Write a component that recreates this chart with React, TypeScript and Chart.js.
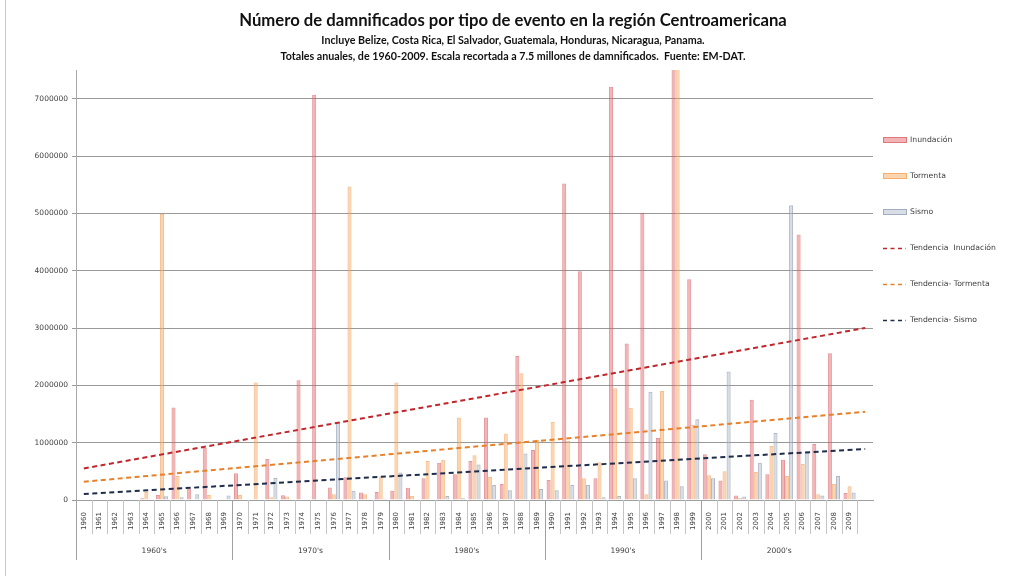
import { useEffect, useRef } from "react";
import { Chart, registerables } from "chart.js";

Chart.register(...registerables);

// Years on the category axis (the last, unlabeled slot is where the trend lines end)
const years = [
  "1960", "1961", "1962", "1963", "1964", "1965", "1966", "1967", "1968", "1969",
  "1970", "1971", "1972", "1973", "1974", "1975", "1976", "1977", "1978", "1979",
  "1980", "1981", "1982", "1983", "1984", "1985", "1986", "1987", "1988", "1989",
  "1990", "1991", "1992", "1993", "1994", "1995", "1996", "1997", "1998", "1999",
  "2000", "2001", "2002", "2003", "2004", "2005", "2006", "2007", "2008", "2009",
  "",
];

const decades = ["1960's", "1970's", "1980's", "1990's", "2000's"];

// Damnificados per year and event type
const inundacion = [
  0, 0, 0, 0, 30000, 87000, 1615000, 200000, 910000, 10000,
  465000, 0, 714000, 85000, 2090000, 7070000, 220000, 395000, 130000, 140000,
  160000, 215000, 380000, 650000, 450000, 680000, 1440000, 280000, 2510000, 870000,
  350000, 5520000, 3990000, 380000, 7210000, 2730000, 5010000, 1080000, 8000000, 3850000,
  800000, 340000, 80000, 1750000, 450000, 700000, 4630000, 975000, 2560000, 120000,
  null,
];

const tormenta = [
  0, 0, 0, 0, 140000, 4990000, 420000, 10000, 87000, 0,
  87000, 2050000, 50000, 60000, 0, 0, 100000, 5470000, 100000, 410000,
  2050000, 70000, 680000, 700000, 1440000, 780000, 400000, 1160000, 2210000, 1050000,
  1360000, 1030000, 380000, 660000, 1950000, 1610000, 100000, 1900000, 8000000, 1310000,
  430000, 500000, 40000, 490000, 940000, 420000, 630000, 100000, 280000, 240000,
  null,
];

const sismo = [
  0, 0, 0, 0, 10000, 64000, 50000, 100000, 0, 80000,
  0, 10000, 383000, 0, 0, 0, 1360000, 160000, 0, 20000,
  480000, 0, 0, 70000, 30000, 620000, 260000, 170000, 810000, 190000,
  170000, 260000, 260000, 50000, 70000, 380000, 1890000, 340000, 240000, 1410000,
  380000, 2240000, 60000, 650000, 1170000, 5140000, 840000, 80000, 420000, 130000,
  null,
];

// Linear trend lines: value at the first and at the last category slot
const tendenciaInundacion = [550000, 3000000];
const tendenciaTormenta = [320000, 1540000];
const tendenciaSismo = [105000, 890000];

const yTicks = [0, 1000000, 2000000, 3000000, 4000000, 5000000, 6000000, 7000000];
const yMax = 7500000;

const titleText = "Número de damnificados por tipo de evento en la región Centroamericana";
const subtitleLines = [
  "Incluye Belize, Costa Rica, El Salvador, Guatemala, Honduras, Nicaragua, Panama.",
  "Totales anuales, de 1960-2009. Escala recortada a 7.5 millones de damnificados.  Fuente: EM-DAT.",
];

const trendSeries = (ends: number[]) =>
  years.map((_, i) => (i === 0 ? ends[0] : i === years.length - 1 ? ends[1] : null));

const SMALL_FONT = "'DejaVu Sans', Verdana, sans-serif";
const TITLE_FONT = "Lato, 'Open Sans', sans-serif";

const overlayPlugin = {
  id: "overlay",
  afterDraw(chart: any) {
    const ctx: CanvasRenderingContext2D = chart.ctx;
    const xs = chart.scales.x;
    const area = chart.chartArea;
    const cx = chart.width / 2;
    ctx.save();

    // outer frame line on the left
    ctx.strokeStyle = "#c8c8c8";
    ctx.lineWidth = 1;
    ctx.beginPath();
    ctx.moveTo(5.5, 0);
    ctx.lineTo(5.5, chart.height);
    ctx.stroke();

    // title block
    ctx.fillStyle = "#111";
    ctx.textAlign = "center";
    ctx.textBaseline = "middle";
    ctx.font = `bold 16.7px ${TITLE_FONT}`;
    ctx.fillText(titleText, cx, 21);
    ctx.font = `bold 10.7px ${TITLE_FONT}`;
    ctx.fillText(subtitleLines[0], cx, 41);
    ctx.fillText(subtitleLines[1], cx, 57);

    // year cells and decade groups under the axis
    const half = (xs.getPixelForValue(1) - xs.getPixelForValue(0)) / 2;
    const base = area.bottom;
    const labeled = years.filter((y) => y !== "").length;
    ctx.lineWidth = 1;
    for (let i = 0; i <= labeled; i++) {
      const bx = Math.round(xs.getPixelForValue(i) - half) + 0.5;
      const isDecade = i % 10 === 0 && i < labeled;
      ctx.strokeStyle = isDecade ? "#a0a0a0" : "#c4c4c4";
      ctx.beginPath();
      ctx.moveTo(bx, base);
      ctx.lineTo(bx, isDecade ? base + 60 : base + 34);
      ctx.stroke();
    }
    ctx.fillStyle = "#404040";
    ctx.font = `7px ${SMALL_FONT}`;
    for (let i = 0; i < labeled; i++) {
      const px = xs.getPixelForValue(i);
      ctx.save();
      ctx.translate(px, base + 21);
      ctx.rotate(-Math.PI / 2);
      ctx.textAlign = "center";
      ctx.textBaseline = "middle";
      ctx.fillText(years[i], 0, 0);
      ctx.restore();
    }
    ctx.font = `7.5px ${SMALL_FONT}`;
    ctx.textAlign = "center";
    ctx.textBaseline = "middle";
    decades.forEach((d, k) => {
      const a = xs.getPixelForValue(k * 10) - half;
      const b = xs.getPixelForValue(k * 10 + 9) + half;
      ctx.fillText(d, (a + b) / 2, base + 51);
    });

    // legend
    const lx = area.right + 10;
    const ly0 = 140;
    const step = 36;
    ctx.textAlign = "left";
    ctx.font = `7.7px ${SMALL_FONT}`;
    chart.data.datasets.forEach((ds: any, k: number) => {
      const y = ly0 + k * step;
      if (ds.type === "line") {
        ctx.strokeStyle = ds.borderColor;
        ctx.lineWidth = 1.5;
        ctx.setLineDash([4, 3.5]);
        ctx.beginPath();
        ctx.moveTo(lx, y + 0.5);
        ctx.lineTo(lx + 23, y + 0.5);
        ctx.stroke();
        ctx.setLineDash([]);
      } else {
        ctx.fillStyle = ds.backgroundColor;
        ctx.fillRect(lx, y - 3, 24, 6);
        ctx.strokeStyle = ds.borderColor;
        ctx.lineWidth = 1;
        ctx.strokeRect(lx + 0.5, y - 2.5, 23, 5);
      }
      ctx.fillStyle = "#404040";
      ctx.fillText(ds.label, lx + 27, y);
    });

    ctx.restore();
  },
};

export default function App() {
  const canvasRef = useRef<HTMLCanvasElement | null>(null);

  useEffect(() => {
    if (!canvasRef.current) return;
    const barCommon = {
      type: "bar" as const,
      borderWidth: 1,
      categoryPercentage: 0.78,
      barPercentage: 1.0,
      clip: 0,
      order: 1,
    };
    const lineCommon = {
      type: "line" as const,
      borderWidth: 2,
      borderDash: [5, 3.5],
      pointRadius: 0,
      spanGaps: true,
      fill: false,
      order: 0,
    };
    const chart = new Chart(canvasRef.current, {
      type: "bar",
      data: {
        labels: years,
        datasets: [
          {
            ...barCommon,
            label: "Inundación",
            data: inundacion,
            backgroundColor: "rgba(232,105,110,0.5)",
            borderColor: "rgba(210,80,86,0.6)",
          },
          {
            ...barCommon,
            label: "Tormenta",
            data: tormenta,
            backgroundColor: "rgba(247,170,98,0.5)",
            borderColor: "rgba(240,150,70,0.6)",
          },
          {
            ...barCommon,
            label: "Sismo",
            data: sismo,
            backgroundColor: "rgba(177,187,205,0.5)",
            borderColor: "rgba(140,152,172,0.7)",
          },
          {
            ...lineCommon,
            label: "Tendencia  Inundación",
            data: trendSeries(tendenciaInundacion),
            borderColor: "#c0272d",
          },
          {
            ...lineCommon,
            label: "Tendencia- Tormenta",
            data: trendSeries(tendenciaTormenta),
            borderColor: "#e8802a",
          },
          {
            ...lineCommon,
            label: "Tendencia- Sismo",
            data: trendSeries(tendenciaSismo),
            borderColor: "#1f2d4a",
          },
        ] as any,
      },
      options: {
        animation: false,
        responsive: true,
        maintainAspectRatio: false,
        layout: { padding: { top: 70, right: 153, left: 0, bottom: 0 } },
        plugins: {
          legend: { display: false },
          title: { display: false },
          tooltip: { enabled: false },
        },
        scales: {
          x: {
            type: "category",
            offset: true,
            grid: { display: false },
            ticks: { display: false },
            border: { display: true, color: "#a0a0a0" },
            afterFit: (s: any) => {
              s.height = 76;
            },
          },
          y: {
            min: 0,
            max: yMax,
            afterBuildTicks: (s: any) => {
              s.ticks = yTicks.map((v) => ({ value: v }));
            },
            ticks: {
              color: "#404040",
              font: { family: SMALL_FONT, size: 7.5 },
              padding: 4,
              callback: (v: any) => String(v),
            },
            grid: {
              color: "#999999",
              tickLength: 4,
              drawTicks: true,
            },
            border: { display: true, color: "#a8a8a8" },
            afterFit: (s: any) => {
              s.width = 76;
            },
          },
        },
      } as any,
      plugins: [overlayPlugin],
    });
    return () => chart.destroy();
  }, []);

  return (
    <div
      style={{
        position: "fixed",
        left: 0,
        top: 0,
        width: 1026,
        height: 576,
        background: "#ffffff",
      }}
    >
      <canvas ref={canvasRef} />
    </div>
  );
}
